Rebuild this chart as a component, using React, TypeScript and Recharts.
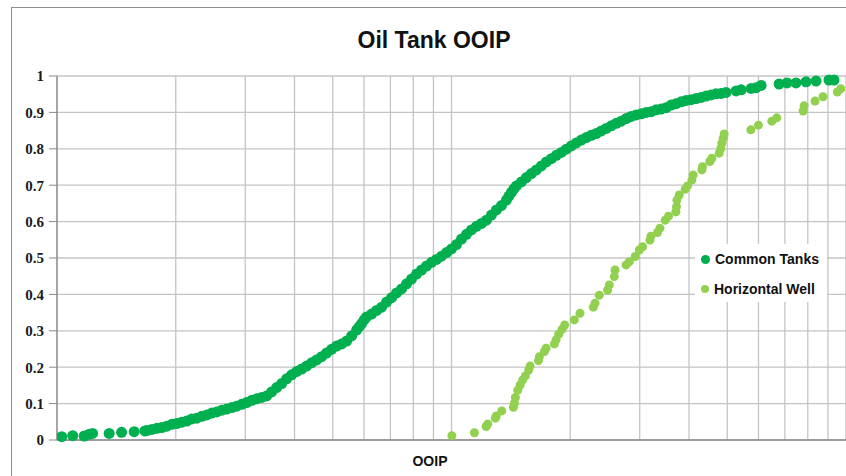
import React from "react";
import {
  ScatterChart,
  Scatter,
  XAxis,
  YAxis,
  CartesianGrid,
  Legend,
  ReferenceLine,
} from "recharts";

// log axis gridlines (no labels shown on the original)
const xGridTicks = [1, 2, 3, 4, 5, 6, 7, 8, 9, 10, 20, 30, 40, 50, 60, 70, 80, 90, 100];
const yTicks = [0, 0.1, 0.2, 0.3, 0.4, 0.5, 0.6, 0.7, 0.8, 0.9, 1];

// [OOIP, cumulative fraction]
const commonTanks: [number, number][] = [
  [1.028, 0.009], [1.096, 0.012], [1.172, 0.011], [1.207, 0.016], [1.231, 0.018],
  [1.356, 0.018], [1.458, 0.021], [1.569, 0.023], [1.67, 0.025],
  [1.69, 0.026], [1.74, 0.029], [1.791, 0.032], [1.844, 0.034], [1.898, 0.038],
  [1.955, 0.043], [2.012, 0.045], [2.072, 0.049], [2.133, 0.052], [2.196, 0.058],
  [2.261, 0.06], [2.328, 0.065], [2.397, 0.069], [2.468, 0.074], [2.541, 0.077],
  [2.616, 0.082], [2.693, 0.085], [2.773, 0.089], [2.855, 0.093], [2.939, 0.098],
  [3.026, 0.103], [3.115, 0.109], [3.207, 0.113], [3.302, 0.117], [3.4, 0.121],
  [3.5, 0.132], [3.604, 0.144], [3.711, 0.155], [3.82, 0.168], [3.933, 0.179],
  [4.049, 0.188], [4.169, 0.195], [4.293, 0.203], [4.419, 0.212], [4.55, 0.22],
  [4.685, 0.229], [4.823, 0.239], [4.966, 0.249], [5.113, 0.258], [5.267, 0.264],
  [5.423, 0.272], [5.583, 0.286], [5.748, 0.302], [5.832, 0.311], [5.918, 0.32],
  [6.005, 0.33], [6.093, 0.338], [6.273, 0.346], [6.459, 0.356], [6.65, 0.365],
  [6.846, 0.379], [7.049, 0.391], [7.257, 0.404], [7.471, 0.415], [7.692, 0.429],
  [7.919, 0.442], [8.155, 0.456], [8.396, 0.467], [8.644, 0.478], [8.9, 0.488],
  [9.163, 0.496], [9.434, 0.505], [9.712, 0.515], [10.0, 0.525], [10.296, 0.537],
  [10.6, 0.552], [10.913, 0.565], [11.236, 0.577], [11.568, 0.587], [11.91, 0.595],
  [12.262, 0.604], [12.625, 0.618], [12.998, 0.632], [13.382, 0.644], [13.778, 0.659],
  [13.98, 0.67], [14.185, 0.68], [14.393, 0.69], [14.605, 0.698], [15.037, 0.709],
  [15.481, 0.721], [15.939, 0.732], [16.41, 0.742], [16.895, 0.753], [17.395, 0.764],
  [17.909, 0.773], [18.438, 0.782], [18.984, 0.79], [19.545, 0.799], [20.123, 0.808],
  [20.718, 0.816], [21.331, 0.824], [21.961, 0.831], [22.61, 0.837], [23.279, 0.842],
  [23.967, 0.849], [24.676, 0.856], [25.405, 0.863], [26.156, 0.87], [26.93, 0.876],
  [27.726, 0.883], [28.546, 0.889], [29.39, 0.893], [30.259, 0.896], [31.153, 0.9],
  [32.074, 0.902], [33.023, 0.907], [33.999, 0.909], [35.004, 0.913], [36.039, 0.92],
  [37.105, 0.924], [38.202, 0.929], [39.331, 0.933], [40.494, 0.935], [41.692, 0.938],
  [42.925, 0.941], [44.194, 0.945], [45.501, 0.948], [46.846, 0.951], [48.231, 0.952],
  [49.657, 0.955], [52.67, 0.959], [54.23, 0.962], [57.48, 0.966], [59.18, 0.968],
  [60.93, 0.974], [67.68, 0.978], [70.89, 0.981], [74.71, 0.981], [79.19, 0.984],
  [83.96, 0.986], [90.57, 0.989], [93.24, 0.989],
];

const horizontalWell: [number, number][] = [
  [10.02, 0.012], [11.43, 0.02], [12.24, 0.037], [12.36, 0.044], [12.92, 0.06],
  [12.98, 0.066], [13.41, 0.08], [14.35, 0.09], [14.44, 0.101], [14.52, 0.117],
  [14.72, 0.137], [14.93, 0.151], [15.15, 0.165], [15.39, 0.176], [15.69, 0.192],
  [15.82, 0.203], [16.61, 0.218], [16.7, 0.229], [17.2, 0.243], [17.37, 0.252],
  [18.23, 0.264], [18.41, 0.275], [18.69, 0.29], [19.06, 0.304], [19.36, 0.316],
  [20.48, 0.33], [21.17, 0.348], [22.88, 0.365], [23.11, 0.376], [23.69, 0.398],
  [24.87, 0.412], [25.12, 0.426], [25.86, 0.449], [25.97, 0.467], [27.69, 0.481],
  [28.23, 0.49], [29.23, 0.504], [29.92, 0.522], [30.5, 0.531], [31.84, 0.549],
  [32.03, 0.56], [33.28, 0.57], [33.75, 0.582], [34.81, 0.604], [35.49, 0.615],
  [37.05, 0.627], [37.18, 0.641], [37.27, 0.659], [37.77, 0.673], [39.12, 0.689],
  [39.65, 0.698], [40.68, 0.714], [40.98, 0.728], [43.12, 0.742], [43.27, 0.751],
  [45.18, 0.765], [45.71, 0.774], [47.7, 0.788], [48.17, 0.801], [48.45, 0.815],
  [48.82, 0.829], [49.11, 0.841], [57.38, 0.852], [59.98, 0.865], [64.85, 0.876],
  [66.77, 0.885], [77.84, 0.904], [78.3, 0.918], [83.47, 0.931], [87.45, 0.943],
  [95.06, 0.956], [96.96, 0.965],
];

const COMMON = "#00B050";
const HORIZ = "#92D050";
const GRID = "#c4c4c4";

const toPoints = (rows: [number, number][]) => rows.map(([x, y]) => ({ x, y }));

const dot = (r: number, fill: string) => (props: any) =>
  <circle cx={props.cx} cy={props.cy} r={r} fill={fill} />;

const LegendBox = (props: any) => {
  const items = props.payload || [];
  return (
    <div style={{ background: "#fff", width: 132, height: 58, boxSizing: "border-box" }}>
      {items.map((it: any, i: number) => (
        <div
          key={i}
          style={{
            display: "flex",
            alignItems: "center",
            height: 30,
            paddingLeft: 6,
            fontFamily: "Liberation Sans, Arial, sans-serif",
            fontWeight: "bold",
            fontSize: 14,
            color: "#111",
          }}
        >
          <span
            style={{
              display: "inline-block",
              width: i === 0 ? 9 : 8,
              height: i === 0 ? 9 : 8,
              borderRadius: "50%",
              background: it.color,
              marginRight: 5,
            }}
          />
          {it.value}
        </div>
      ))}
    </div>
  );
};

export default function App() {
  return (
    <div
      style={{
        position: "absolute",
        left: 0,
        top: 0,
        width: 846,
        height: 476,
        overflow: "hidden",
        background: "#fff",
      }}
    >
      <div
        style={{
          position: "absolute",
          left: 11,
          top: 7,
          width: 900,
          height: 600,
          border: "1px solid #8e8e8e",
        }}
      />
      <div style={{ position: "absolute", left: 0, top: 0 }}>
        <ScatterChart width={846} height={476} margin={{ top: 76, right: 0, bottom: 0, left: 0 }}>
          <CartesianGrid stroke={GRID} strokeWidth={1.3} vertical={false} />
          <XAxis
            type="number"
            dataKey="x"
            scale="log"
            domain={[1, 100]}
            ticks={xGridTicks}
            tick={false}
            tickLine={false}
            axisLine={{ stroke: "#8a8a8a", strokeWidth: 1.3 }}
            height={36}
            allowDataOverflow
          />
          <YAxis
            type="number"
            dataKey="y"
            domain={[0, 1]}
            ticks={yTicks}
            width={57}
            tickSize={8}
            tickMargin={5}
            tickLine={{ stroke: "#8a8a8a" }}
            axisLine={{ stroke: "#8a8a8a", strokeWidth: 1.3 }}
            tick={{
              fontFamily: "Liberation Serif, Times New Roman, serif",
              fontSize: 15,
              fontWeight: "bold",
              fill: "#1a1a1a",
            }}
          />
          {xGridTicks.map((t) => (
            <ReferenceLine key={t} x={t} stroke={GRID} strokeWidth={1.3} ifOverflow="extendDomain" />
          ))}
          <Legend
            layout="vertical"
            align="center"
            verticalAlign="middle"
            wrapperStyle={{ position: "absolute", left: 695, top: 244, width: 132, height: 58 }}
            content={LegendBox}
          />
          <Scatter
            name="Common Tanks"
            data={toPoints(commonTanks)}
            fill={COMMON}
            shape={dot(5.5, COMMON)}
            isAnimationActive={false}
          />
          <Scatter
            name="Horizontal Well"
            data={toPoints(horizontalWell)}
            fill={HORIZ}
            shape={dot(4.5, HORIZ)}
            isAnimationActive={false}
          />
        </ScatterChart>
      </div>
      <div
        style={{
          position: "absolute",
          left: 334,
          top: 29,
          width: 200,
          textAlign: "center",
          fontFamily: "Liberation Sans, Arial, sans-serif",
          fontWeight: "bold",
          fontSize: 23,
          lineHeight: "23px",
          color: "#111",
        }}
      >
        Oil Tank OOIP
      </div>
      <div
        style={{
          position: "absolute",
          left: 380,
          top: 454,
          width: 100,
          textAlign: "center",
          fontFamily: "Liberation Sans, Arial, sans-serif",
          fontWeight: "bold",
          fontSize: 14,
          lineHeight: "14px",
          color: "#111",
        }}
      >
        OOIP
      </div>
    </div>
  );
}
